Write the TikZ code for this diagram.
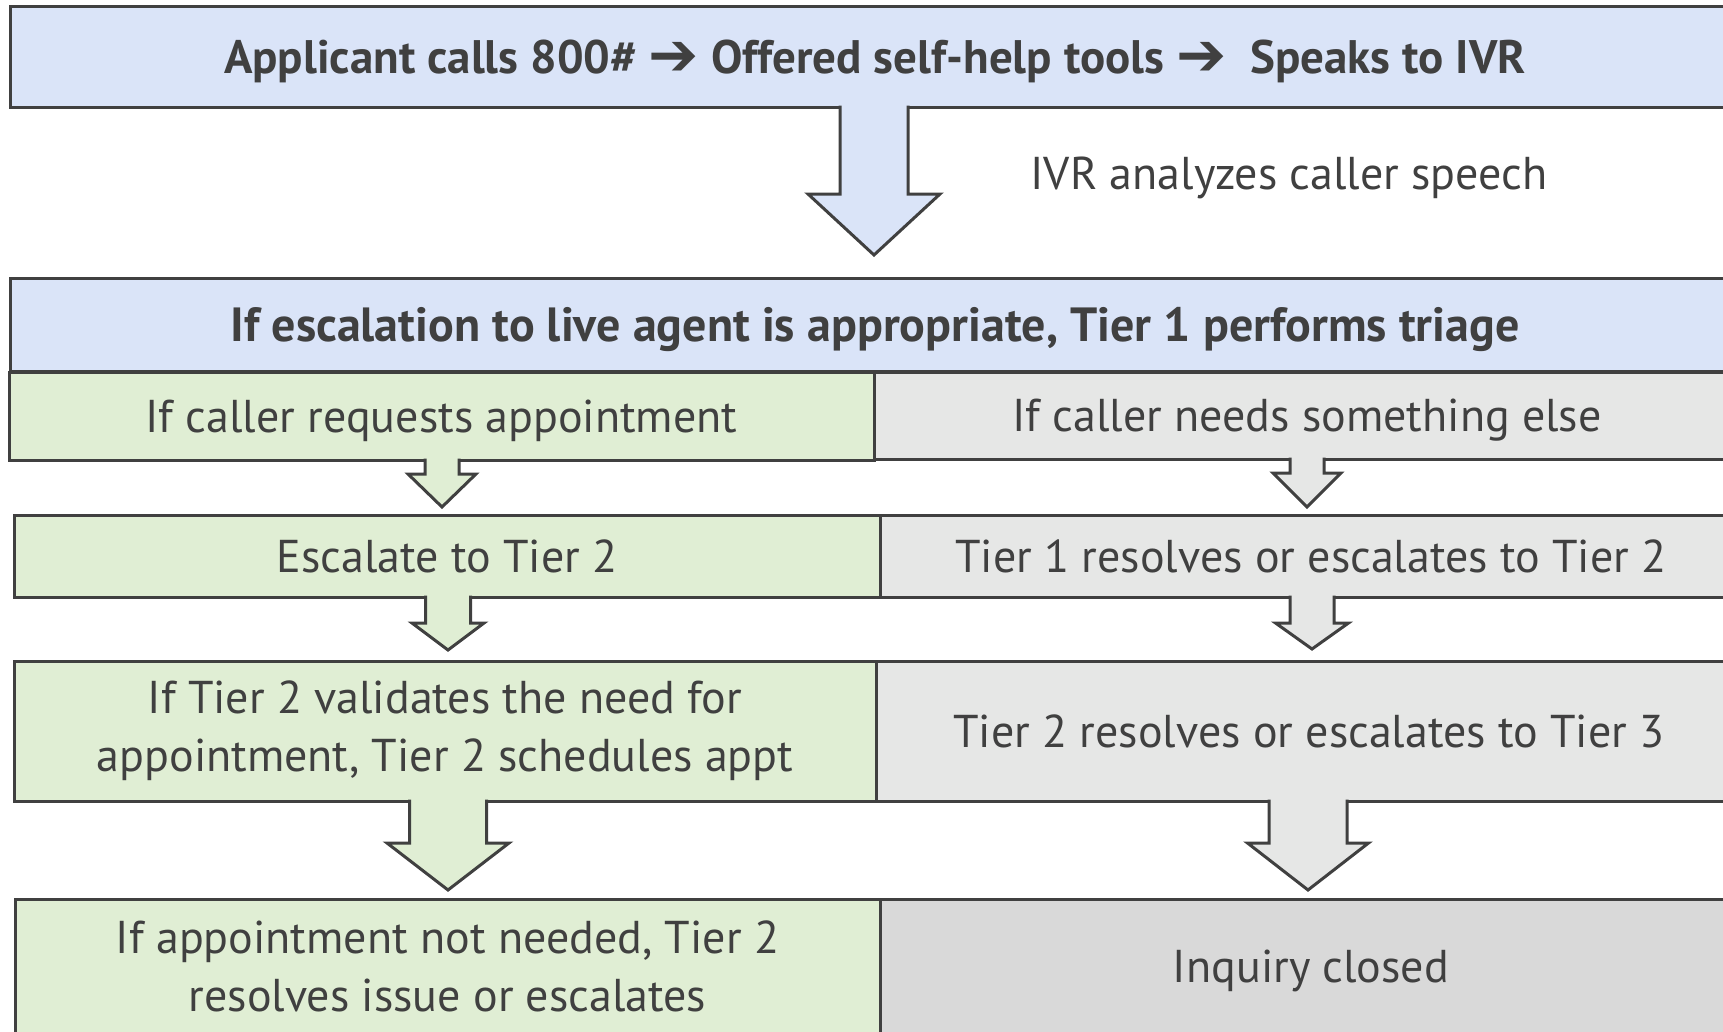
\documentclass[tikz,border=0pt]{standalone}
\usepackage{fontspec}
\setmainfont{PT Sans}
\newfontfamily\arrowfont{DejaVu Sans}
\usetikzlibrary{calc}

\definecolor{ink}{HTML}{404040}
\definecolor{bluefill}{HTML}{DAE4F8}
\definecolor{greenfill}{HTML}{E0EED4}
\definecolor{grayfill}{HTML}{E6E7E6}
\definecolor{closedfill}{HTML}{D9D9D9}

\newcommand\bodysize{\fontsize{46}{58}\selectfont}
\newcommand\barsize{\fontsize{48}{58}\selectfont\bfseries}

\tikzset{
  box/.style={draw=ink, line width=3pt, rectangle, inner sep=0pt, outer sep=0pt,
    anchor=north west, align=center, text=ink, font=\bodysize},
  oneline/.style={text height=32pt, text depth=0pt},
  headbar/.style={box, fill=bluefill, font=\barsize, text height=33.5pt, text depth=0pt},
  apptbox/.style={box, fill=greenfill},
  otherbox/.style={box, fill=grayfill},
  closedbox/.style={box, fill=closedfill},
  label/.style={text=ink, inner sep=0pt, font=\bodysize},
}

\newcommand\sep{\raisebox{-2pt}{\arrowfont\bfseries\fontsize{60}{60}\selectfont\symbol{"2794}}}

% Block arrow hanging from the bottom edge of a box:
% #1 source node, #2 fill, #3 centre x, #4 shaft half width,
% #5 head half width, #6 head base y, #7 tip y
\newcommand\blockarr[7]{%
  \fill[#2] let \p1=(#1.south) in
    ({(#3-#4)*1pt},{\y1+2pt}) -- ({(#3-#4)*1pt},{-#6*1pt})
    -- ({(#3-#5)*1pt},{-#6*1pt}) -- ({#3*1pt},{-#7*1pt})
    -- ({(#3+#5)*1pt},{-#6*1pt}) -- ({(#3+#4)*1pt},{-#6*1pt})
    -- ({(#3+#4)*1pt},{\y1+2pt}) -- cycle;
  \draw[ink, line width=3pt, line join=miter] let \p1=(#1.south) in
    ({(#3-#4)*1pt},{\y1+1.5pt}) -- ({(#3-#4)*1pt},{-#6*1pt})
    -- ({(#3-#5)*1pt},{-#6*1pt}) -- ({#3*1pt},{-#7*1pt})
    -- ({(#3+#5)*1pt},{-#6*1pt}) -- ({(#3+#4)*1pt},{-#6*1pt})
    -- ({(#3+#4)*1pt},{\y1+1.5pt});
}

\begin{document}
\begin{tikzpicture}[x=1pt, y=-1pt]
\useasboundingbox (0,0) rectangle (1723,1031);
\clip (0,0) rectangle (1723,1031);

% intake bar
\node[headbar, font=\fontsize{47}{58}\selectfont\bfseries, minimum width=1730pt, minimum height=101pt] (b1) at (10,6)
  {Applicant calls 800\# \sep{} Offered self-help tools \sep~ Speaks to IVR};
\blockarr{b1}{bluefill}{874}{34}{66}{194}{255}
\node[label, anchor=base] (ivr) at (1289,189) {IVR analyzes caller speech};

% triage bar
\node[headbar, minimum width=1730pt, minimum height=93pt] (b2) at (10,278)
  {If escalation to live agent is appropriate, Tier 1 performs triage};

% row 1
\node[apptbox, oneline, minimum width=865pt, minimum height=88pt] (g1) at (9,372)
  {If caller requests appointment};
\node[otherbox, oneline, minimum width=866pt, minimum height=87pt] (r1) at (874,372)
  {If caller needs something else};
\blockarr{g1}{greenfill}{442}{17}{34}{474}{507}
\blockarr{r1}{grayfill}{1307}{17}{34}{473}{507}

% row 2
\node[apptbox, oneline, minimum width=866pt, minimum height=82pt] (g2) at (14,515)
  {Escalate to Tier 2};
\node[otherbox, oneline, minimum width=862pt, minimum height=82pt] (r2) at (880,515)
  {Tier 1 resolves or escalates to Tier 2};
\blockarr{g2}{greenfill}{448}{22.5}{36}{623}{650}
\blockarr{r2}{grayfill}{1312}{22}{36.5}{623}{649}

% row 3
\node[apptbox, minimum width=862pt, minimum height=140pt] (g3) at (14,661)
  {If Tier 2 validates the need for\\ appointment, Tier 2 schedules appt};
\node[otherbox, oneline, minimum width=866pt, minimum height=140pt] (r3) at (876,661)
  {Tier 2 resolves or escalates to Tier 3};
\blockarr{g3}{greenfill}{448}{38.5}{61}{843}{890}
\blockarr{r3}{grayfill}{1308}{39}{60.5}{843}{890}

% row 4
\node[apptbox, minimum width=865pt, minimum height=135pt] (g4) at (15,899)
  {If appointment not needed, Tier 2\\ resolves issue or escalates};
\node[closedbox, oneline, minimum width=862pt, minimum height=135pt] (r4) at (880,899)
  {Inquiry closed};
\end{tikzpicture}
\end{document}
